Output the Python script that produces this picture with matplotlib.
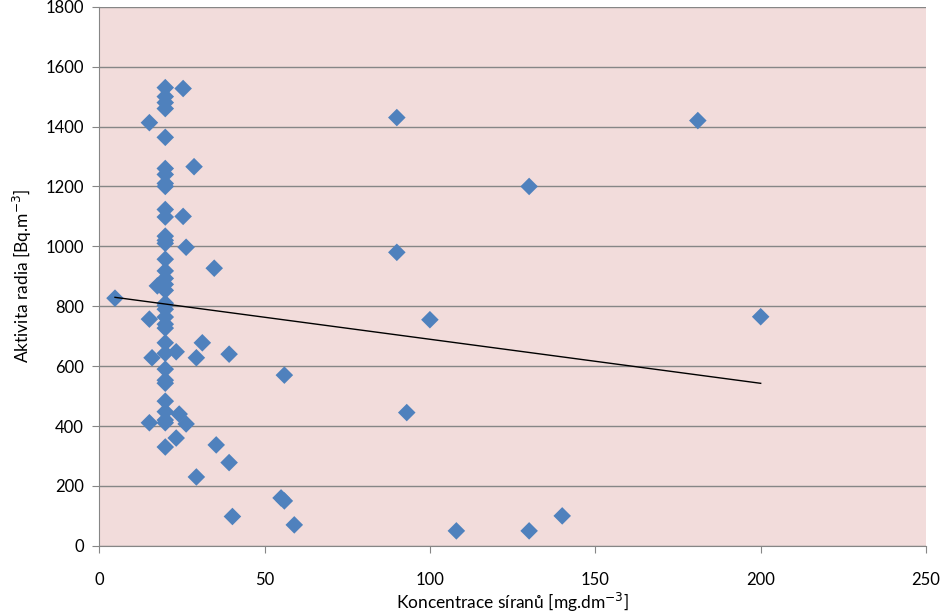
import numpy as np
import matplotlib.pyplot as plt

# sulphate concentration [mg/dm3] vs radium activity [Bq/m3]
sulphate = [
    4.8, 15.2, 15.2, 16.0, 15.2, 17.6,
    20, 20, 20, 20, 20, 20, 20, 20, 20, 20,
    20, 20, 20, 20, 20, 20, 20, 20, 20, 20,
    20, 20, 20, 20, 20, 20, 20, 20, 20, 20,
    20, 20, 20, 20, 20,
    25.4, 28.7, 25.4, 26.3, 34.8, 23.3, 31.2, 29.4, 39.3,
    24.2, 26.3, 23.3, 35.4, 39.3, 29.4, 40.3,
    55, 56, 56, 59,
    90, 90, 100, 93, 108, 130, 130, 140, 181, 200,
]
radium = [
    827, 1413, 757, 628, 411, 868,
    1530, 1500, 1480, 1460, 1364, 1260, 1240, 1210, 1200, 1123,
    1098, 1034, 1020, 1010, 957, 918, 893, 873, 853, 810,
    803, 790, 764, 740, 727, 678, 643, 590, 553, 543,
    483, 448, 420, 411, 330,
    1527, 1266, 1100, 997, 927, 648, 678, 628, 640,
    440, 407, 360, 337, 278, 230, 98,
    160, 150, 570, 70,
    1430, 980, 755, 445, 50, 1200, 50, 100, 1420, 765,
]

x_ticks = [0, 50, 100, 150, 200, 250]
y_ticks = [0, 200, 400, 600, 800, 1000, 1200, 1400, 1600, 1800]

plt.rcParams['font.family'] = ['Lato', 'DejaVu Sans']

fig = plt.figure(figsize=(9.44, 6.14), dpi=100)
ax = fig.add_axes([0.105, 0.111, 0.876, 0.878])
ax.set_facecolor('#F2DCDB')

ax.scatter(sulphate, radium, marker='D', s=80, color='#4F81BD',
           edgecolors='none', zorder=3)

# linear trend line, like Excel's
k, q = np.polyfit(sulphate, radium, 1)
tx = np.array([min(sulphate), max(sulphate)])
ax.plot(tx, k * tx + q, color='black', lw=1, zorder=4)

ax.set_xlim(0, 250)
ax.set_ylim(0, 1800)
ax.set_xticks(x_ticks)
ax.set_yticks(y_ticks)
ax.grid(axis='y', color='#868686', lw=1)
ax.set_axisbelow(True)

for s in ['top', 'right']:
    ax.spines[s].set_visible(False)
for s in ['left', 'bottom']:
    ax.spines[s].set_color('#868686')
ax.tick_params(direction='out', length=5, color='#868686',
               labelsize=12, pad=6)
ax.tick_params(axis='x', pad=14)

ax.set_xlabel('Koncentrace síranů [mg.dm$^{-3}$]', fontsize=12.5, labelpad=2)
ax.set_ylabel('Aktivita radia [Bq.m$^{-3}$]', fontsize=12.5, labelpad=8)

fig.savefig('out.png', dpi=100)
